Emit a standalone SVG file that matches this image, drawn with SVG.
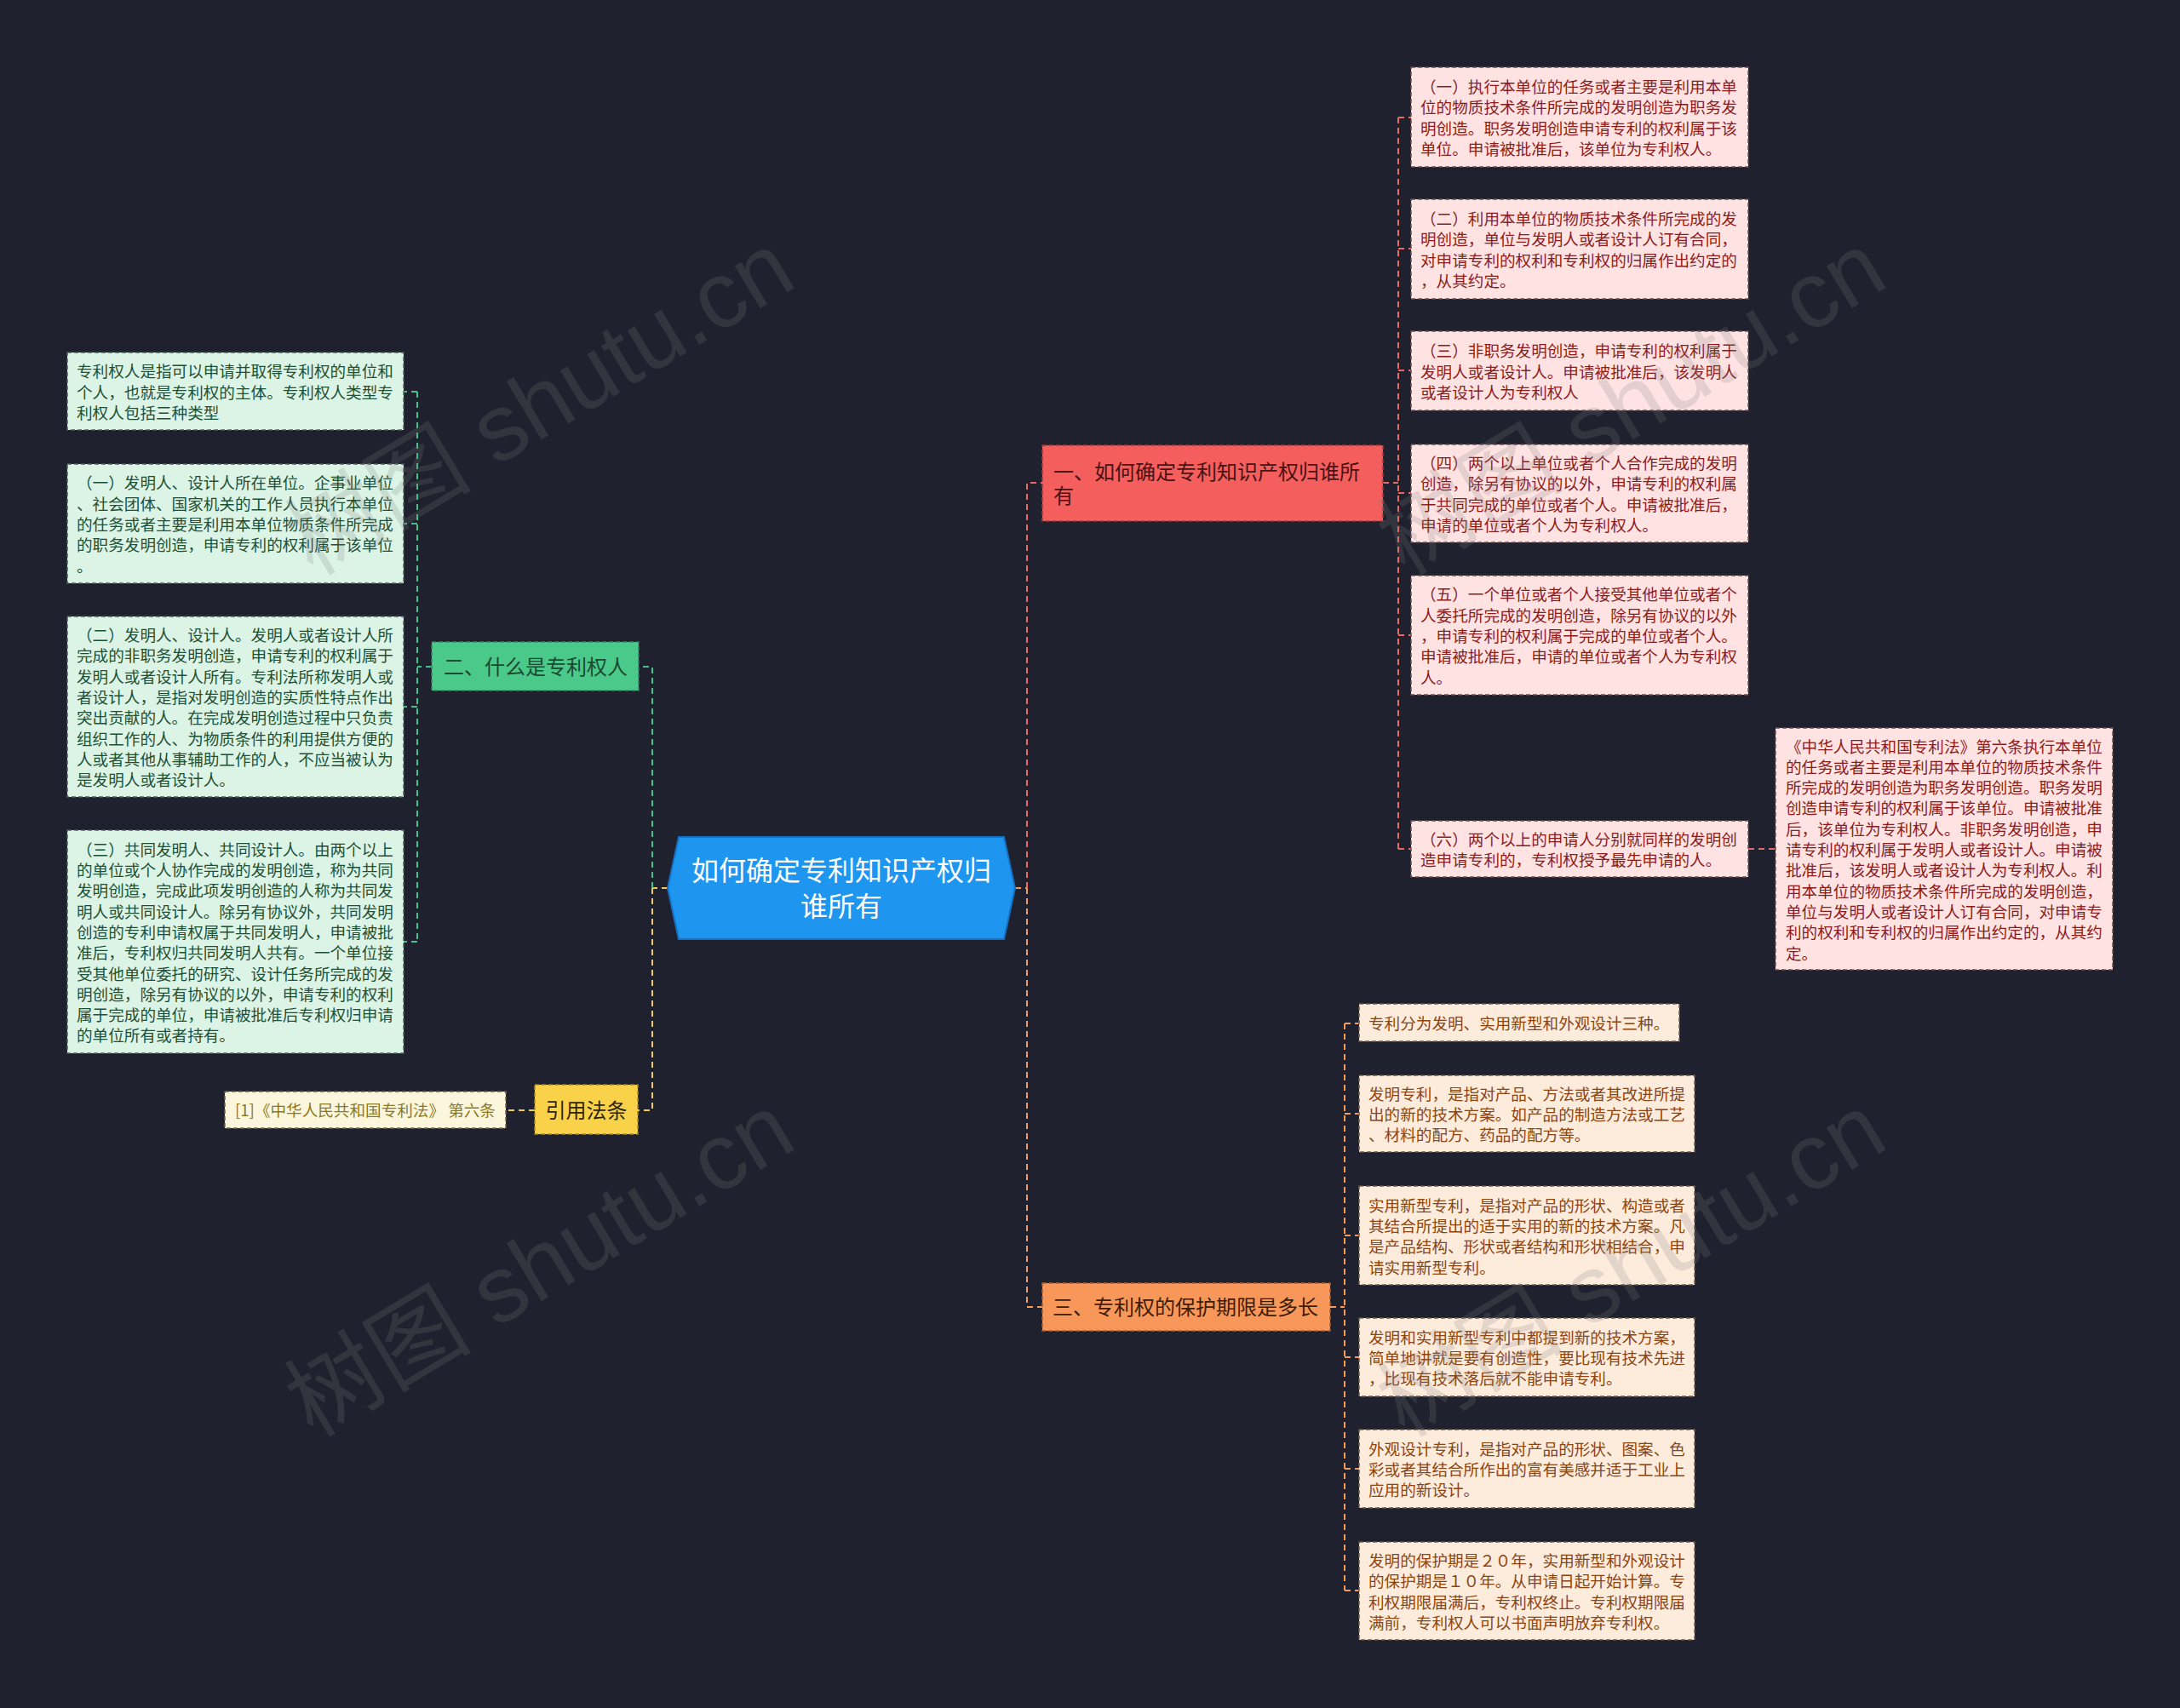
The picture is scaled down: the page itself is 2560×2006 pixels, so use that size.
<svg xmlns="http://www.w3.org/2000/svg" width="2560" height="2006" viewBox="0 0 2560 2006">
<style>
.t{font-family:"Noto Sans CJK SC","Noto Sans",sans-serif;font-size:18.6px;dominant-baseline:central}
.tb{font-family:"Noto Sans CJK SC","Noto Sans",sans-serif;font-size:24px;dominant-baseline:central}
.box{stroke-width:1.5;stroke-dasharray:5 3}
.gbox{fill:#DCF4E6;stroke:#4d5f57}
.rbox{fill:#FFE2E2;stroke:#6b4f4f}
.obox{fill:#FDEBDC;stroke:#6b5a4a}
.ybox{fill:#FCF7DC;stroke:#6b6549}
.tg{fill:#1E5035}
.tr{fill:#8A1C1C}
.to{fill:#8A4512}
.ty{fill:#8A7A25}
.c{fill:none;stroke-width:2;stroke-dasharray:7 5}
.cg{stroke:#45C08A}
.cr{stroke:#E56B69}
.co{stroke:#F29B5B}
.cy{stroke:#F2CC45}
.wm{font-family:"Liberation Sans","Noto Sans CJK SC",sans-serif;font-size:110px;fill:#808080;opacity:0.2}
</style>
<rect x="0" y="0" width="2560" height="2006" fill="#1F222E"/>

<g id="connectors">
  <path class="c cy" d="M784 1043 H766"/>
  <path class="c cg" d="M766 1043 V783 H750"/>
  <path class="c cy" d="M766 1043 V1304 H749"/>
  <path class="c cy" d="M628 1304 H594"/>
  <path class="c cg" d="M507 783 H490"/>
  <path class="c cg" d="M490 460 V1106"/>
  <path class="c cg" d="M490 460 H474 M490 615 H474 M490 830 H474 M490 1106 H474"/>
  <path class="c co" d="M1192 1043 H1206"/>
  <path class="c cr" d="M1206 1043 V567 H1224"/>
  <path class="c co" d="M1206 1043 V1535 H1224"/>
  <path class="c cr" d="M1624 567 H1642"/>
  <path class="c cr" d="M1642 138 V997"/>
  <path class="c cr" d="M1642 138 H1657 M1642 292 H1657 M1642 435 H1657 M1642 579 H1657 M1642 746 H1657 M1642 997 H1657"/>
  <path class="c cr" d="M2053 997 H2085"/>
  <path class="c co" d="M1562 1535 H1579"/>
  <path class="c co" d="M1579 1202 V1868"/>
  <path class="c co" d="M1579 1202 H1596 M1579 1308 H1596 M1579 1451 H1596 M1579 1594 H1596 M1579 1725 H1596 M1579 1868 H1596"/>
</g>

<g id="center">
  <polygon points="784,1043 797,983 1179,983 1192,1043 1179,1103 797,1103" fill="#1E96F0" stroke="#1570C4" stroke-width="2"/>
  <text font-family="Noto Sans CJK SC, Noto Sans, sans-serif" font-size="32" fill="#FFFFFF" text-anchor="middle" dominant-baseline="central"><tspan x="988" y="1020">如何确定专利知识产权归</tspan><tspan x="988" y="1062">谁所有</tspan></text>
</g>

<g id="branch-green">
  <rect class="box" x="507" y="754" width="243" height="57" fill="#4BC98A" stroke="#2f8a5e"/>
  <text class="tb" fill="#1A4A30" x="521" y="781">二、什么是专利权人</text>
</g>

<g id="branch-red">
  <rect class="box" x="1224" y="523" width="400" height="89" fill="#F45E5D" stroke="#a83a3a"/>
  <text class="tb" fill="#4A1212"><tspan x="1237" y="552">一、如何确定专利知识产权归谁所</tspan><tspan x="1237" y="580">有</tspan></text>
</g>

<g id="branch-orange">
  <rect class="box" x="1224" y="1507" width="338" height="56" fill="#F8975A" stroke="#b0602e"/>
  <text class="tb" fill="#3E1C05" x="1236" y="1533">三、专利权的保护期限是多长</text>
</g>

<g id="branch-yellow">
  <rect class="box" x="628" y="1274" width="121" height="58" fill="#FAD24A" stroke="#a88a20"/>
  <text class="tb" fill="#2E2608" x="688.5" y="1302" text-anchor="middle">引用法条</text>
</g>

<g id="cite">
  <rect class="box ybox" x="264" y="1282" width="330" height="43"/>
  <text class="t ty" x="276" y="1302">[1]《中华人民共和国专利法》 第六条</text>
</g>

<g id="g1">
  <rect class="box gbox" x="79" y="414" width="395" height="91"/>
  <text class="t tg"><tspan x="90" y="434.2">专利权人是指可以申请并取得专利权的单位和</tspan><tspan x="90" y="458.5">个人，也就是专利权的主体。专利权人类型专</tspan><tspan x="90" y="482.8">利权人包括三种类型</tspan></text>
</g>
<g id="g2">
  <rect class="box gbox" x="79" y="545" width="395" height="140"/>
  <text class="t tg"><tspan x="90" y="565.4">（一）发明人、设计人所在单位。企事业单位</tspan><tspan x="90" y="589.7">、社会团体、国家机关的工作人员执行本单位</tspan><tspan x="90" y="614">的任务或者主要是利用本单位物质条件所完成</tspan><tspan x="90" y="638.3">的职务发明创造，申请专利的权利属于该单位</tspan><tspan x="90" y="662.6">。</tspan></text>
</g>
<g id="g3">
  <rect class="box gbox" x="79" y="724" width="395" height="212"/>
  <text class="t tg"><tspan x="90" y="744">（二）发明人、设计人。发明人或者设计人所</tspan><tspan x="90" y="768.3">完成的非职务发明创造，申请专利的权利属于</tspan><tspan x="90" y="792.6">发明人或者设计人所有。专利法所称发明人或</tspan><tspan x="90" y="816.9">者设计人，是指对发明创造的实质性特点作出</tspan><tspan x="90" y="841.2">突出贡献的人。在完成发明创造过程中只负责</tspan><tspan x="90" y="865.5">组织工作的人、为物质条件的利用提供方便的</tspan><tspan x="90" y="889.8">人或者其他从事辅助工作的人，不应当被认为</tspan><tspan x="90" y="914.1">是发明人或者设计人。</tspan></text>
</g>
<g id="g4">
  <rect class="box gbox" x="79" y="975" width="395" height="262"/>
  <text class="t tg"><tspan x="90" y="995.7">（三）共同发明人、共同设计人。由两个以上</tspan><tspan x="90" y="1020">的单位或个人协作完成的发明创造，称为共同</tspan><tspan x="90" y="1044.3">发明创造，完成此项发明创造的人称为共同发</tspan><tspan x="90" y="1068.6">明人或共同设计人。除另有协议外，共同发明</tspan><tspan x="90" y="1092.9">创造的专利申请权属于共同发明人，申请被批</tspan><tspan x="90" y="1117.2">准后，专利权归共同发明人共有。一个单位接</tspan><tspan x="90" y="1141.5">受其他单位委托的研究、设计任务所完成的发</tspan><tspan x="90" y="1165.8">明创造，除另有协议的以外，申请专利的权利</tspan><tspan x="90" y="1190.1">属于完成的单位，申请被批准后专利权归申请</tspan><tspan x="90" y="1214.4">的单位所有或者持有。</tspan></text>
</g>

<g id="r1">
  <rect class="box rbox" x="1657" y="79" width="396" height="117"/>
  <text class="t tr"><tspan x="1668" y="100.1">（一）执行本单位的任务或者主要是利用本单</tspan><tspan x="1668" y="124.4">位的物质技术条件所完成的发明创造为职务发</tspan><tspan x="1668" y="148.7">明创造。职务发明创造申请专利的权利属于该</tspan><tspan x="1668" y="173">单位。申请被批准后，该单位为专利权人。</tspan></text>
</g>
<g id="r2">
  <rect class="box rbox" x="1657" y="234" width="396" height="117"/>
  <text class="t tr"><tspan x="1668" y="255.1">（二）利用本单位的物质技术条件所完成的发</tspan><tspan x="1668" y="279.4">明创造，单位与发明人或者设计人订有合同，</tspan><tspan x="1668" y="303.7">对申请专利的权利和专利权的归属作出约定的</tspan><tspan x="1668" y="328">，从其约定。</tspan></text>
</g>
<g id="r3">
  <rect class="box rbox" x="1657" y="389" width="396" height="93"/>
  <text class="t tr"><tspan x="1668" y="410.2">（三）非职务发明创造，申请专利的权利属于</tspan><tspan x="1668" y="434.5">发明人或者设计人。申请被批准后，该发明人</tspan><tspan x="1668" y="458.8">或者设计人为专利权人</tspan></text>
</g>
<g id="r4">
  <rect class="box rbox" x="1657" y="522" width="396" height="115"/>
  <text class="t tr"><tspan x="1668" y="542.1">（四）两个以上单位或者个人合作完成的发明</tspan><tspan x="1668" y="566.4">创造，除另有协议的以外，申请专利的权利属</tspan><tspan x="1668" y="590.7">于共同完成的单位或者个人。申请被批准后，</tspan><tspan x="1668" y="615">申请的单位或者个人为专利权人。</tspan></text>
</g>
<g id="r5">
  <rect class="box rbox" x="1657" y="676" width="396" height="140"/>
  <text class="t tr"><tspan x="1668" y="696.4">（五）一个单位或者个人接受其他单位或者个</tspan><tspan x="1668" y="720.7">人委托所完成的发明创造，除另有协议的以外</tspan><tspan x="1668" y="745">，申请专利的权利属于完成的单位或者个人。</tspan><tspan x="1668" y="769.3">申请被批准后，申请的单位或者个人为专利权</tspan><tspan x="1668" y="793.6">人。</tspan></text>
</g>
<g id="r6">
  <rect class="box rbox" x="1657" y="964" width="396" height="66"/>
  <text class="t tr"><tspan x="1668" y="983.9">（六）两个以上的申请人分别就同样的发明创</tspan><tspan x="1668" y="1008.2">造申请专利的，专利权授予最先申请的人。</tspan></text>
</g>
<g id="r6a">
  <rect class="box rbox" x="2085" y="855" width="396" height="284"/>
  <text class="t tr"><tspan x="2097" y="874.5">《中华人民共和国专利法》第六条执行本单位</tspan><tspan x="2097" y="898.8">的任务或者主要是利用本单位的物质技术条件</tspan><tspan x="2097" y="923.1">所完成的发明创造为职务发明创造。职务发明</tspan><tspan x="2097" y="947.4">创造申请专利的权利属于该单位。申请被批准</tspan><tspan x="2097" y="971.7">后，该单位为专利权人。非职务发明创造，申</tspan><tspan x="2097" y="996">请专利的权利属于发明人或者设计人。申请被</tspan><tspan x="2097" y="1020.3">批准后，该发明人或者设计人为专利权人。利</tspan><tspan x="2097" y="1044.6">用本单位的物质技术条件所完成的发明创造，</tspan><tspan x="2097" y="1068.9">单位与发明人或者设计人订有合同，对申请专</tspan><tspan x="2097" y="1093.2">利的权利和专利权的归属作出约定的，从其约</tspan><tspan x="2097" y="1117.5">定。</tspan></text>
</g>

<g id="o1">
  <rect class="box obox" x="1596" y="1179" width="376" height="44"/>
  <text class="t to" x="1607" y="1200">专利分为发明、实用新型和外观设计三种。</text>
</g>
<g id="o2">
  <rect class="box obox" x="1596" y="1263" width="394" height="90"/>
  <text class="t to"><tspan x="1607" y="1282.7">发明专利，是指对产品、方法或者其改进所提</tspan><tspan x="1607" y="1307">出的新的技术方案。如产品的制造方法或工艺</tspan><tspan x="1607" y="1331.3">、材料的配方、药品的配方等。</tspan></text>
</g>
<g id="o3">
  <rect class="box obox" x="1596" y="1393" width="394" height="116"/>
  <text class="t to"><tspan x="1607" y="1413.6">实用新型专利，是指对产品的形状、构造或者</tspan><tspan x="1607" y="1437.9">其结合所提出的适于实用的新的技术方案。凡</tspan><tspan x="1607" y="1462.2">是产品结构、形状或者结构和形状相结合，申</tspan><tspan x="1607" y="1486.5">请实用新型专利。</tspan></text>
</g>
<g id="o4">
  <rect class="box obox" x="1596" y="1548" width="394" height="92"/>
  <text class="t to"><tspan x="1607" y="1568.7">发明和实用新型专利中都提到新的技术方案，</tspan><tspan x="1607" y="1593">简单地讲就是要有创造性，要比现有技术先进</tspan><tspan x="1607" y="1617.3">，比现有技术落后就不能申请专利。</tspan></text>
</g>
<g id="o5">
  <rect class="box obox" x="1596" y="1679" width="394" height="92"/>
  <text class="t to"><tspan x="1607" y="1699.7">外观设计专利，是指对产品的形状、图案、色</tspan><tspan x="1607" y="1724">彩或者其结合所作出的富有美感并适于工业上</tspan><tspan x="1607" y="1748.3">应用的新设计。</tspan></text>
</g>
<g id="o6">
  <rect class="box obox" x="1596" y="1811" width="394" height="115"/>
  <text class="t to"><tspan x="1607" y="1831.1">发明的保护期是２０年，实用新型和外观设计</tspan><tspan x="1607" y="1855.4">的保护期是１０年。从申请日起开始计算。专</tspan><tspan x="1607" y="1879.7">利权期限届满后，专利权终止。专利权期限届</tspan><tspan x="1607" y="1904">满前，专利权人可以书面声明放弃专利权。</tspan></text>
</g>

<g id="watermark">
  <text class="wm" text-anchor="middle" transform="translate(653,506) rotate(-31)">树图 shutu.cn</text>
  <text class="wm" text-anchor="middle" transform="translate(1935,506) rotate(-31)">树图 shutu.cn</text>
  <text class="wm" text-anchor="middle" transform="translate(653,1518) rotate(-31)">树图 shutu.cn</text>
  <text class="wm" text-anchor="middle" transform="translate(1935,1518) rotate(-31)">树图 shutu.cn</text>
</g>
</svg>
